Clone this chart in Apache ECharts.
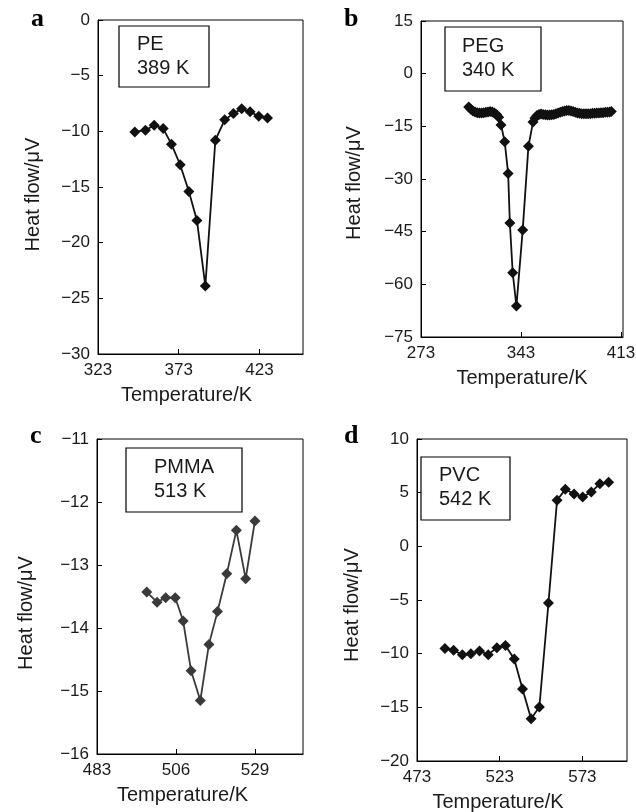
<!DOCTYPE html>
<html>
<head>
<meta charset="utf-8">
<script src="https://cdn.jsdelivr.net/npm/echarts@6/dist/echarts.min.js"></script>
<style>
  html, body { margin: 0; padding: 0; background: #fff; }
  #chart { width: 636px; height: 812px; }
</style>
</head>
<body>
<div id="chart"></div>
<script>
// a: PE
const peTemp = [345.8, 352.4, 357.8, 363.4, 368.5, 373.9, 379.3, 384.3, 389.5, 395.7, 401.5, 406.9, 412.0, 417.2, 422.6, 428.0];
const peHeat = [-10.05, -9.9, -9.45, -9.75, -11.15, -13.0, -15.4, -18.0, -23.9, -10.8, -8.97, -8.4, -7.98, -8.25, -8.64, -8.8];
// b: PEG
const pegTemp = [306.4, 307.9, 309.4, 310.9, 312.4, 313.9, 315.4, 316.9, 318.4, 319.9, 321.4, 322.9, 324.4, 325.9, 327.4,
  329.0, 331.6, 334.0, 335.2, 337.2, 339.8, 344.2, 348.2, 351.4,
  352.8, 354.2, 355.6, 357.0, 358.5, 360.0, 361.5, 363.0, 364.5, 366.0, 367.5, 369.0, 370.5, 372.0, 373.5, 375.0,
  376.5, 378.0, 379.5, 381.0, 382.5, 384.0, 385.5, 387.0, 388.5, 390.0, 391.5, 393.0, 394.5, 396.0, 397.5, 399.0,
  400.5, 402.0, 403.5, 405.0, 406.2];
const pegHeat = [-9.5, -10.1, -10.6, -10.9, -11.1, -11.2, -11.2, -11.1, -11.0, -10.9, -10.8, -10.9, -11.2, -11.6, -12.4,
  -14.6, -19.4, -28.4, -42.5, -56.7, -66.2, -44.5, -20.7, -13.8,
  -12.6, -11.9, -11.6, -11.5, -11.6, -11.7, -11.8, -11.8, -11.7, -11.6, -11.4, -11.2, -11.0, -10.8, -10.6, -10.5,
  -10.5, -10.6, -10.8, -11.0, -11.2, -11.3, -11.4, -11.4, -11.4, -11.4, -11.4, -11.3, -11.3, -11.2, -11.2, -11.1,
  -11.1, -11.0, -11.0, -10.9, -10.8];
// c: PMMA
const pmmaTemp = [497.5, 500.5, 503.0, 505.8, 508.1, 510.4, 513.1, 515.6, 518.1, 520.8, 523.6, 526.3, 529.0];
const pmmaHeat = [-13.43, -13.59, -13.52, -13.52, -13.89, -14.68, -15.15, -14.26, -13.74, -13.14, -12.45, -13.22, -12.30];
// d: PVC
const pvcTemp = [489.9, 495.1, 500.4, 505.6, 510.8, 516.1, 521.3, 526.5, 531.8, 536.8, 542.0, 547.0, 552.5, 557.7, 562.7, 568.0, 573.2, 578.4, 583.6, 588.9];
const pvcHeat = [-9.53, -9.69, -10.09, -10.0, -9.75, -10.09, -9.44, -9.25, -10.5, -13.29, -16.06, -14.97, -5.28, 4.29, 5.31, 4.88, 4.6, 5.06, 5.84, 5.96];

// tick labels
const peTicks = [323, 373, 423];
const pegTicks = [273, 343, 413];
const pmmaTicks = [483, 506, 529];
const pvcTicks = [473, 523, 573];

const panels = ['a', 'b', 'c', 'd'];
const samples = [['PE', '389 K'], ['PEG', '340 K'], ['PMMA', '513 K'], ['PVC', '542 K']];

const minus = v => String(v).replace('-', '\u2212');
const font = 'Liberation Sans, Arial, sans-serif';
const ink = '#1a1a1a';

const grids = [
  { left: 98, top: 20, width: 205, height: 334 },
  { left: 421, top: 21, width: 202, height: 316 },
  { left: 97, top: 439, width: 206, height: 315 },
  { left: 417, top: 439, width: 210, height: 322 }
];
const xRange = [[323, 450], [273, 414.4], [483, 543], [473, 600]];
const yRange = [[-30, 0, 5], [-75, 15, 15], [-16, -11, 1], [-20, 10, 5]];
const xTicks = [peTicks, pegTicks, pmmaTicks, pvcTicks];
const xNamePad = [28, 0, 35, 48];
const yNamePad = [15, 8, 33, 10];
const yNameGap = [55, 57, 61, 55];

const xAxis = grids.map((g, i) => ({
  type: 'value', gridIndex: i,
  min: xRange[i][0], max: xRange[i][1],
  name: 'Temperature/K', nameLocation: 'middle', nameGap: 31,
  nameTextStyle: { fontFamily: font, fontSize: 20, color: ink, padding: [0, xNamePad[i], 0, 0] },
  axisLine: { onZero: false, lineStyle: { color: '#000', width: 1 } },
  axisTick: { inside: true, length: 5, customValues: xTicks[i], lineStyle: { color: '#000' } },
  axisLabel: { customValues: xTicks[i], fontFamily: font, fontSize: 17, color: ink, margin: 8 },
  splitLine: { show: false }
}));

const yAxis = grids.map((g, i) => ({
  type: 'value', gridIndex: i,
  min: yRange[i][0], max: yRange[i][1], interval: yRange[i][2],
  name: 'Heat flow/\u03bcV', nameLocation: 'middle', nameGap: yNameGap[i], nameRotate: 90,
  nameTextStyle: { fontFamily: font, fontSize: 20, color: ink, padding: [0, yNamePad[i], 0, 0] },
  axisLine: { onZero: false, lineStyle: { color: '#000', width: 1 } },
  axisTick: { inside: true, length: 5, lineStyle: { color: '#000' } },
  axisLabel: { fontFamily: font, fontSize: 17, color: ink, margin: 8, formatter: minus },
  splitLine: { show: false }
}));

const pairs = (xs, ys) => xs.map((x, k) => [x, ys[k]]);
const seriesData = [pairs(peTemp, peHeat), pairs(pegTemp, pegHeat), pairs(pmmaTemp, pmmaHeat), pairs(pvcTemp, pvcHeat)];
const lineColor = ['#111', '#111', '#3a3a3a', '#111'];

const series = seriesData.map((d, i) => ({
  type: 'line', xAxisIndex: i, yAxisIndex: i, data: d,
  symbol: 'diamond', symbolSize: 11,
  lineStyle: { color: lineColor[i], width: 1.8 },
  itemStyle: { color: lineColor[i] },
  animation: false
}));

// boxes with sample name and temperature
const boxes = [
  { x: 119, y: 26, w: 90, h: 61, tx: 137, ty: 54 },
  { x: 445, y: 27, w: 96, h: 64, tx: 462, ty: 56 },
  { x: 126, y: 448, w: 116, h: 64, tx: 154, ty: 477 },
  { x: 421, y: 457, w: 89, h: 63, tx: 439, ty: 485 }
];
const letterPos = [[31, 32], [344, 32], [30, 449], [344, 449]];

const graphic = [];
boxes.forEach((b, i) => {
  graphic.push({ type: 'rect', shape: { x: b.x, y: b.y, width: b.w, height: b.h },
    style: { fill: '#fff', stroke: '#000', lineWidth: 1.2 }, z: 10 });
  graphic.push({ type: 'text', x: b.tx, y: b.ty, z: 11,
    style: { text: samples[i][0], font: '20px ' + font, fill: ink, textVerticalAlign: 'bottom' } });
  graphic.push({ type: 'text', x: b.tx, y: b.ty + 24, z: 11,
    style: { text: samples[i][1], font: '20px ' + font, fill: ink, textVerticalAlign: 'bottom' } });
  graphic.push({ type: 'text', x: letterPos[i][0], y: letterPos[i][1], z: 11,
    style: { text: panels[i], font: 'bold 26px Liberation Serif, Times New Roman, serif', fill: '#000', textVerticalAlign: 'bottom' } });
});

const chart = echarts.init(document.getElementById('chart'));
chart.setOption({
  animation: false,
  backgroundColor: '#fff',
  grid: grids.map(g => Object.assign({ show: true, borderColor: '#000', borderWidth: 1, containLabel: false, outerBoundsMode: 'none' }, g)),
  xAxis: xAxis,
  yAxis: yAxis,
  series: series,
  graphic: graphic
});
</script>
</body>
</html>
